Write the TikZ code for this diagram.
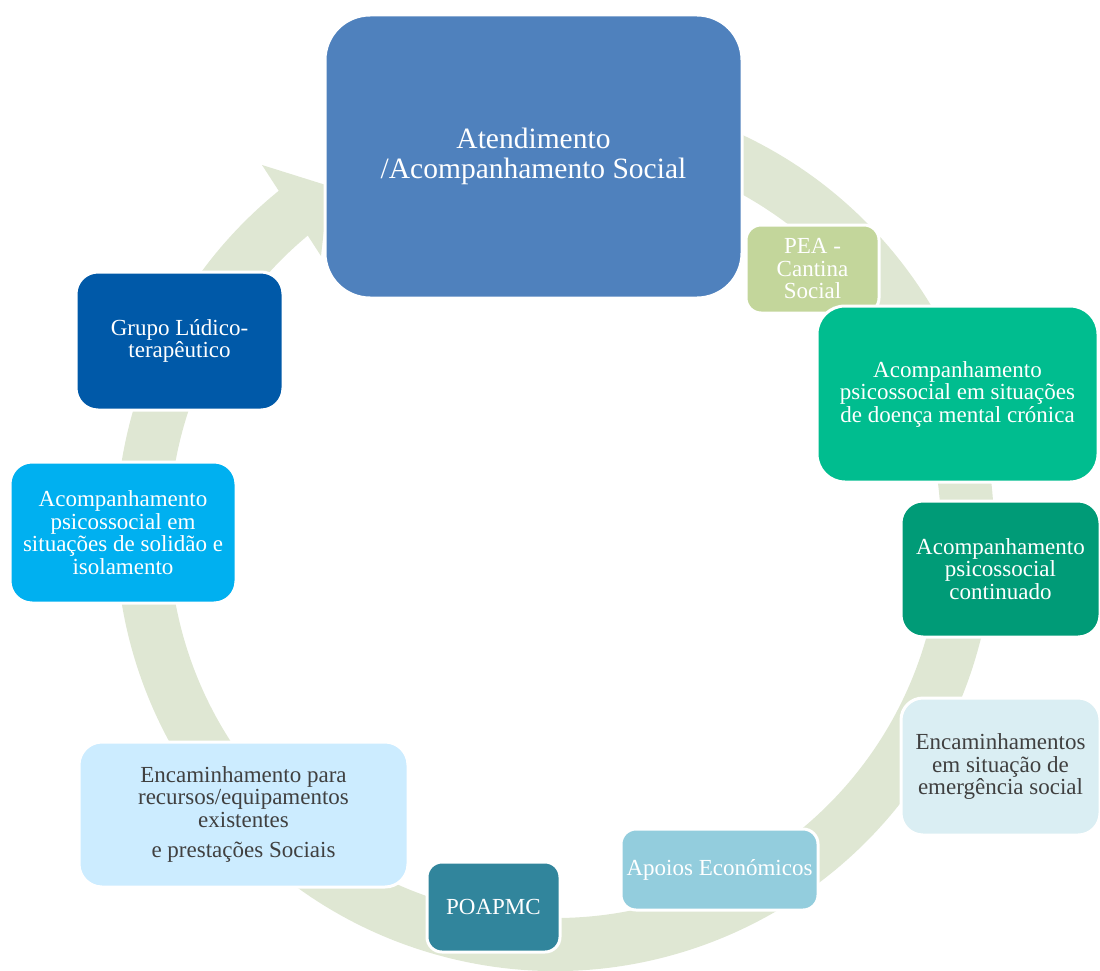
\documentclass[tikz,border=0pt]{standalone}
\usepackage{fontspec}
\setmainfont{Liberation Serif}
\usetikzlibrary{calc}
\definecolor{ringc}{HTML}{DFE7D3}
\definecolor{cbig}{HTML}{4F81BD}
\definecolor{cpea}{HTML}{C3D69B}
\definecolor{cmental}{HTML}{00BD8F}
\definecolor{ccont}{HTML}{009B77}
\definecolor{cemerg}{HTML}{DAEEF3}
\definecolor{capoios}{HTML}{93CDDD}
\definecolor{cpoapmc}{HTML}{31859C}
\definecolor{cencam}{HTML}{CCECFF}
\definecolor{csolid}{HTML}{00B0F0}
\definecolor{cgrupo}{HTML}{0059A8}
\definecolor{darktext}{HTML}{404040}
\begin{document}
\begin{tikzpicture}[x=1pt,y=-1pt,
  card/.style={rectangle, draw=white, line width=3pt, align=center, inner sep=0pt,
    text=white, font=\fontsize{23}{22.5}\selectfont},
  lightcard/.style={card, text=darktext},
  ringfill/.style={fill=ringc}]
\useasboundingbox (0,0) rectangle (1100,971);
% circular arrow
\coordinate (c) at (555,532);
\fill[ringfill] ($(c)+(-75:439)$) arc[start angle=-75, end angle=232, radius=439]
  -- ($(c)+(232:386)$) arc[start angle=232, end angle=-75, radius=386] -- cycle;
\coordinate (barbout) at (262,165);
\coordinate (tip) at (329,186);
\coordinate (barbin) at (321,256);
\fill[ringfill] (barbout) -- (tip) -- (barbin) -- cycle;
% boxes
\node[card, fill=cbig, rounded corners=45pt, minimum width=417pt, minimum height=283pt,
  font=\fontsize{29.5}{30}\selectfont] (big) at (533.5,156.5) {Atendimento\\/Acompanhamento Social};
\node[card, fill=cpea, rounded corners=15pt, minimum width=133pt, minimum height=88pt] (pea) at (812.5,269) {PEA -\\Cantina\\Social};
\node[card, fill=cmental, rounded corners=28pt, minimum width=281pt, minimum height=176pt] (mental) at (957.5,394) {Acompanhamento\\psicossocial em situações\\de doença mental crónica};
\node[card, fill=ccont, rounded corners=22pt, minimum width=199pt, minimum height=136pt] (cont) at (1000.5,569) {Acompanhamento\\psicossocial\\continuado};
\node[lightcard, fill=cemerg, rounded corners=22pt, minimum width=199pt, minimum height=137pt] (emerg) at (1000.5,766.5) {Encaminhamentos\\em situação de\\emergência social};
\node[card, fill=capoios, rounded corners=15pt, minimum width=197pt, minimum height=81pt] (apoios) at (719.5,869.5) {Apoios Económicos};
\node[card, fill=cpoapmc, rounded corners=15pt, minimum width=133pt, minimum height=90pt] (poapmc) at (493.5,907) {POAPMC};
\node[lightcard, fill=cencam, rounded corners=23pt, minimum width=329pt, minimum height=145pt] (encam) at (243.5,814.5) {Encaminhamento para\\recursos/equipamentos\\existentes\\[8pt]e prestações Sociais};
\node[card, fill=csolid, rounded corners=22pt, minimum width=226pt, minimum height=141pt] (solid) at (123,532.5) {Acompanhamento\\psicossocial em\\situações de solidão e\\isolamento};
\node[card, fill=cgrupo, rounded corners=22pt, minimum width=207pt, minimum height=138pt] (grupo) at (179.5,341) {Grupo Lúdico-\\terapêutico};
\end{tikzpicture}
\end{document}
